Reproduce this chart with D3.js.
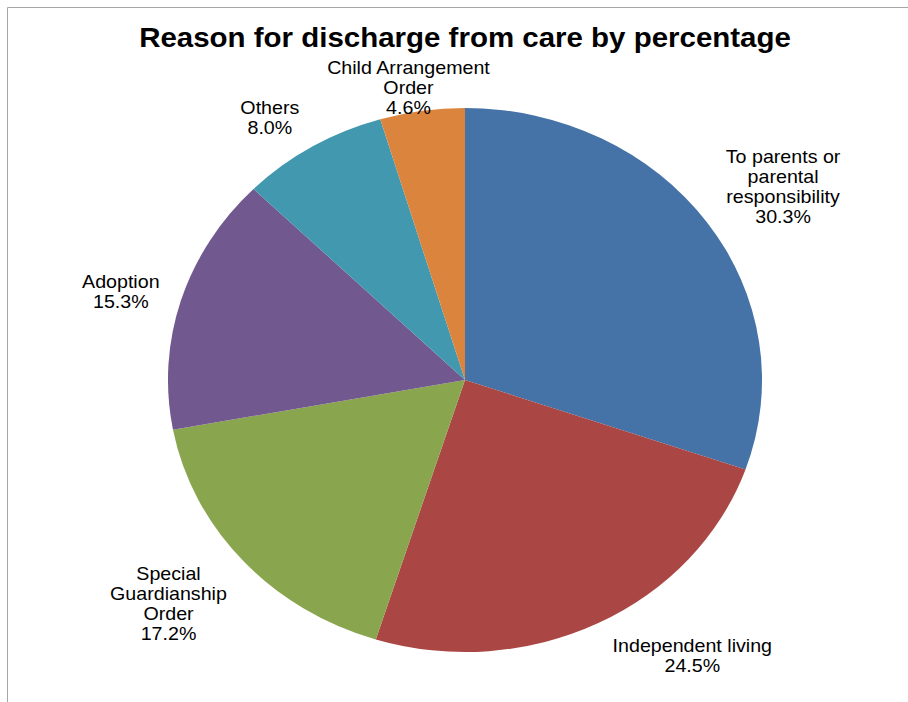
<!DOCTYPE html>
<html>
<head>
<meta charset="utf-8">
<script src="https://cdn.jsdelivr.net/npm/d3@7"></script>
<style>
  body { margin: 0; background: #fff; }
  text { font-family: "Liberation Sans", Arial, sans-serif; fill: #000; }
</style>
</head>
<body>
<script>
// chart data
const title = "Reason for discharge from care by percentage";
const categories = [
  "To parents or\nparental\nresponsibility",
  "Independent living",
  "Special\nGuardianship\nOrder",
  "Adoption",
  "Others",
  "Child Arrangement\nOrder"
];
const percents = [30.3, 24.5, 17.2, 15.3, 8.0, 4.6];
const colours = ["#4572A7", "#AA4643", "#89A54E", "#71588F", "#4198AF", "#DB843D"];

const width = 908, height = 702;
const cx = 465, cy = 380;
const r = 272;        // vertical radius
const stretch = 1.092; // the picture is a bit wider than tall
const gap = 25;
const lineH = 20;

// small hand nudges for label placement (screen px)
const labelNudge = [[7, 3], [46, -6], [-10, 2], [3, 6], [-13, 11], [2, 33]];

const svg = d3.select("body").append("svg")
  .attr("width", width)
  .attr("height", height);

// frame
svg.append("path")
  .attr("d", "M7.5," + height + "V7.5H" + width)
  .attr("fill", "none")
  .attr("stroke", "#a6a6a6")
  .attr("stroke-width", 1);

const g = svg.append("g")
  .attr("transform", "translate(" + cx + "," + cy + ") scale(" + stretch + ",1)");

g.append("text")
  .attr("x", 0)
  .attr("y", 47 - cy)
  .attr("text-anchor", "middle")
  .style("font-weight", "bold")
  .style("font-size", "27px")
  .text(title);

const data = categories.map((c, i) => ({ name: c, value: percents[i], colour: colours[i] }));

const pie = d3.pie().sort(null).value(d => d.value);
const arc = d3.arc().innerRadius(0).outerRadius(r);
const arcs = pie(data);

g.selectAll("path.slice")
  .data(arcs)
  .enter()
  .append("path")
  .attr("class", "slice")
  .attr("d", arc)
  .attr("fill", d => d.data.colour);

// labels outside each slice
const labels = g.selectAll("g.label")
  .data(arcs)
  .enter()
  .append("g")
  .attr("class", "label");

labels.each(function(d, i) {
  const lines = d.data.name.split("\n").concat([d.data.value.toFixed(1) + "%"]);
  const t = d3.select(this).append("text")
    .attr("text-anchor", "middle")
    .style("font-size", "18px");
  lines.forEach((s, k) => {
    t.append("tspan").attr("x", 0).attr("dy", k === 0 ? 0 : lineH).text(s);
  });
  const bb = t.node().getBBox();
  const w = bb.width, h = lines.length * lineH;
  const a = (d.startAngle + d.endAngle) / 2;
  const sx = Math.sin(a), sy = -Math.cos(a);
  const px = sx * (r + gap) + sx * w / 2 + labelNudge[i][0] / stretch;
  const py = sy * (r + gap) + sy * h / 2 + labelNudge[i][1];
  // py is block centre; first baseline sits a bit above
  t.attr("transform", "translate(" + px + "," + (py - h / 2 + lineH * 0.75) + ")");
});
</script>
</body>
</html>
